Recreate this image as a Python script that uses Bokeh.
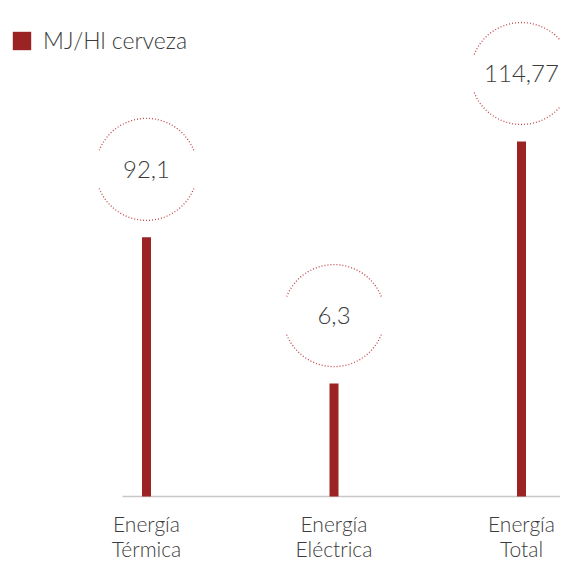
from bokeh.plotting import figure
from bokeh.models import Range1d, Legend, LegendItem, ColumnDataSource
from bokeh.core.properties import value
from bokeh.embed import file_html
from bokeh.resources import INLINE
import math

# ---- data ----
categories = ["Energía\nTérmica", "Energía\nEléctrica", "Energía\nTotal"]
values = [92.1, 6.3, 114.77]
value_labels = ["92,1", "6,3", "114,77"]
# relative bar lengths as drawn in the infographic (tallest = 100)
bar_levels = [73.0, 31.8, 100.0]
series_name = "MJ/Hl cerveza"

BAR_COLOR = "#9c2323"
TEXT_COLOR = "#3c3c3c"
FONT_NAME = "Lato Light"
FONT = value(FONT_NAME)

W, H = 560, 559
PX_X = 187.5      # pixels per category step
X0 = 146.0        # pixel position of first category
PX_Y = 3.55       # pixels per level unit
BASE = 496.0      # baseline pixel from top

xs = list(range(len(categories)))
x_start = -X0 / PX_X
x_end = x_start + W / PX_X
y_start = -(H - BASE) / PX_Y
y_end = BASE / PX_Y

p = figure(width=W, height=H, output_backend="svg", toolbar_location=None,
           x_range=Range1d(x_start, x_end), y_range=Range1d(y_start, y_end),
           min_border=0, min_border_left=0, min_border_right=0,
           min_border_top=0, min_border_bottom=0)
p.axis.visible = False
p.grid.visible = False
p.outline_line_color = None
p.background_fill_color = "white"
p.border_fill_color = "white"

# baseline
p.segment(x0=[xs[0] - 24 / PX_X], y0=[0], x1=[x_end], y1=[0],
          line_color="#c8c8c8", line_width=1.5)

src = ColumnDataSource(dict(x=xs, top=bar_levels, lab=value_labels, cat=categories,
                            cy=[b + 68 / PX_Y for b in bar_levels]))

bars = p.vbar(x="x", top="top", bottom=0, width=9 / PX_X, source=src,
              fill_color=BAR_COLOR, line_color=None)

# dotted circles (two arcs with gaps left/right)
g = math.radians(22)
p.arc(x="x", y="cy", radius=51, radius_units="screen", source=src,
      start_angle=g, end_angle=math.pi - g, line_color="#b8262a",
      line_width=1.3, line_dash="1 2", line_alpha=0.85)
p.arc(x="x", y="cy", radius=51, radius_units="screen", source=src,
      start_angle=math.pi + g, end_angle=2 * math.pi - g, line_color="#b8262a",
      line_width=1.3, line_dash="1 2", line_alpha=0.85)

p.text(x="x", y="cy", text="lab", source=src, text_align="center",
       text_baseline="middle", text_font=FONT, text_font_size="24px",
       text_color=TEXT_COLOR)

p.text(x="x", y=0, text="cat", source=src, text_align="center",
       text_baseline="top", y_offset=14, text_font=FONT, text_font_size="21px",
       text_color=TEXT_COLOR, text_line_height=1.0)

legend = Legend(items=[LegendItem(label=series_name, renderers=[bars])],
                location=(10, 505), orientation="vertical",
                glyph_width=23, glyph_height=23, label_height=23,
                label_standoff=10, padding=0, margin=0, spacing=0,
                border_line_color=None, background_fill_alpha=0,
                label_text_font=FONT_NAME, label_text_font_size="23px",
                label_text_color=TEXT_COLOR, label_text_baseline="middle")
p.add_layout(legend)

open("out.html", "w").write(file_html(p, INLINE))
